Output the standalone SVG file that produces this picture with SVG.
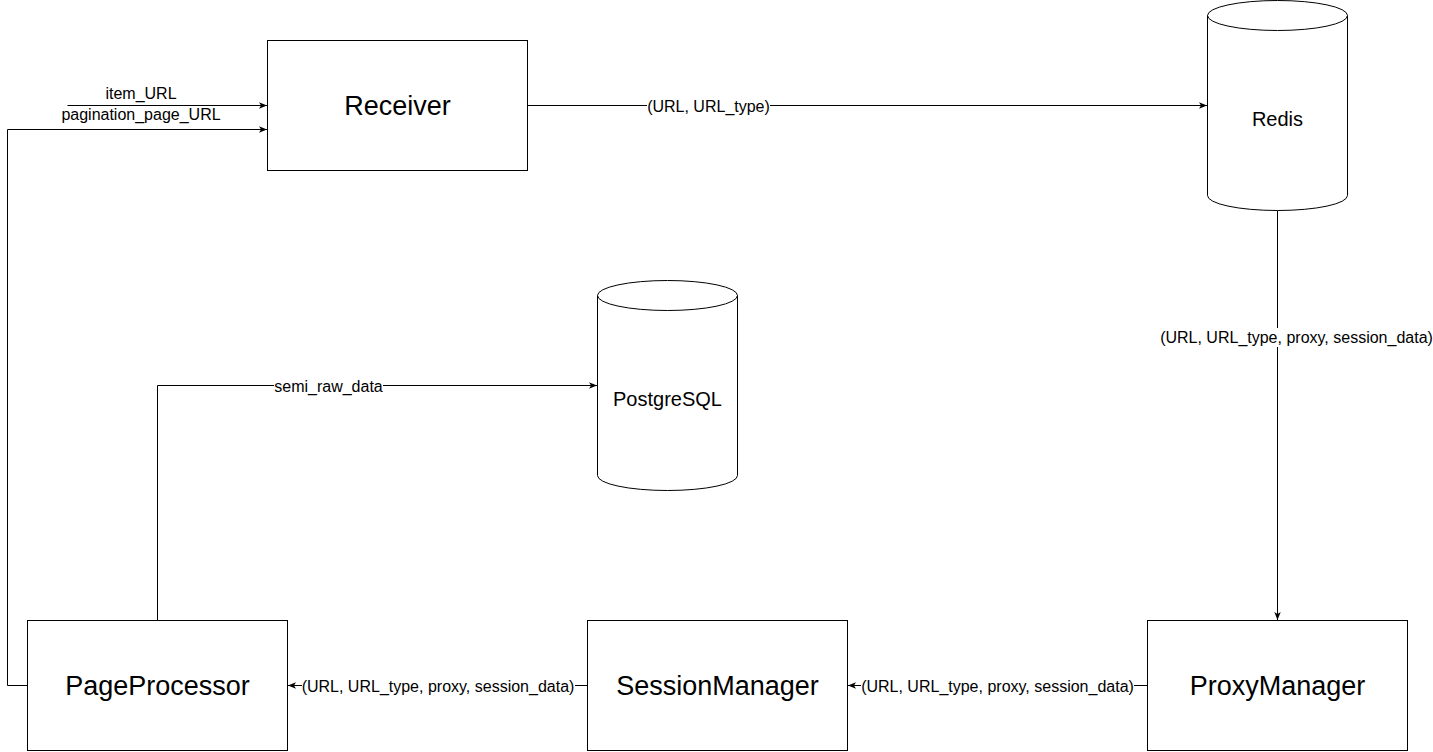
<svg xmlns="http://www.w3.org/2000/svg" width="1433" height="752" viewBox="0 0 1433 752">
<style>
.box{fill:#fff;stroke:#000;stroke-width:1}
.big{font-family:"Liberation Sans",Arial,sans-serif;font-size:27px;fill:#000;text-anchor:middle}
.mid{font-family:"Liberation Sans",Arial,sans-serif;font-size:20px;fill:#000;text-anchor:middle}
.lbl{font-family:"Liberation Sans",Arial,sans-serif;font-size:16px;fill:#000;text-anchor:middle}
.edge{fill:none;stroke:#000;stroke-width:1}
.bg{fill:#fff}
</style>
<defs>
<marker id="arr" viewBox="0 0 10 10" refX="10" refY="5" markerWidth="8" markerHeight="8" markerUnits="userSpaceOnUse" orient="auto">
<path d="M0,1 L10,5 L0,9 L2.5,5 Z" fill="#000"/>
</marker>
</defs>
<rect width="1433" height="752" fill="#fff"/>
<g id="connectors">
<path class="edge" d="M67.5,105.5 H267" marker-end="url(#arr)"/>
<path class="edge" d="M27.5,685.5 H7.5 V129.5 H267" marker-end="url(#arr)"/>
<path class="edge" d="M527.5,105.5 H1207" marker-end="url(#arr)"/>
<path class="edge" d="M1277.5,210.5 V620" marker-end="url(#arr)"/>
<path class="edge" d="M1147.5,685.5 H848" marker-end="url(#arr)"/>
<path class="edge" d="M587.5,685.5 H288" marker-end="url(#arr)"/>
<path class="edge" d="M157.5,620.5 V385.5 H597" marker-end="url(#arr)"/>
<text class="lbl" x="141" y="99">item_URL</text>
<text class="lbl" x="141" y="120">pagination_page_URL</text>
<rect class="bg" x="647" y="96" width="123" height="19"/>
<text class="lbl" x="708.5" y="111.5">(URL, URL_type)</text>
<rect class="bg" x="1160" y="328" width="273" height="19"/>
<text class="lbl" x="1296.5" y="343">(URL, URL_type, proxy, session_data)</text>
<rect class="bg" x="861" y="677" width="273" height="19"/>
<text class="lbl" x="997.5" y="691.5">(URL, URL_type, proxy, session_data)</text>
<rect class="bg" x="302" y="677" width="273" height="19"/>
<text class="lbl" x="438" y="691.5">(URL, URL_type, proxy, session_data)</text>
<rect class="bg" x="274" y="376" width="109" height="19"/>
<text class="lbl" x="328.5" y="391.5">semi_raw_data</text>
</g>
<g id="receiver">
<rect class="box" x="267.5" y="40.5" width="260" height="130"/>
<text class="big" x="397.5" y="114.5">Receiver</text>
</g>
<g id="redis">
<path class="box" d="M1207.5,15.5 A70,15 0 0 1 1347.5,15.5 V195.5 A70,15 0 0 1 1207.5,195.5 Z"/>
<path class="edge" d="M1207.5,15.5 A70,15 0 0 0 1347.5,15.5"/>
<text class="mid" x="1277.5" y="126">Redis</text>
</g>
<g id="postgresql">
<path class="box" d="M597.5,295.5 A70,15 0 0 1 737.5,295.5 V475.5 A70,15 0 0 1 597.5,475.5 Z"/>
<path class="edge" d="M597.5,295.5 A70,15 0 0 0 737.5,295.5"/>
<text class="mid" x="667.5" y="406">PostgreSQL</text>
</g>
<g id="pageprocessor">
<rect class="box" x="27.5" y="620.5" width="260" height="130"/>
<text class="big" x="157.5" y="694.5">PageProcessor</text>
</g>
<g id="sessionmanager">
<rect class="box" x="587.5" y="620.5" width="260" height="130"/>
<text class="big" x="717.5" y="694.5">SessionManager</text>
</g>
<g id="proxymanager">
<rect class="box" x="1147.5" y="620.5" width="260" height="130"/>
<text class="big" x="1277.5" y="694.5">ProxyManager</text>
</g>
</svg>
